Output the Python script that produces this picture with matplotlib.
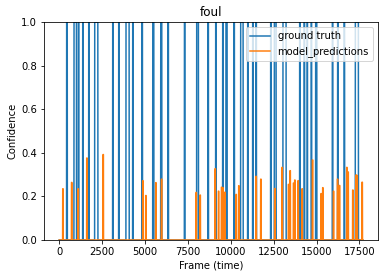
# Foul-Erkennung: Ground Truth vs. Modell-Vorhersage
import numpy as np
import matplotlib
matplotlib.use('Agg')
import matplotlib.pyplot as plt

n_frames = 17700

# Ground-Truth-Intervalle (Start-Frame, End-Frame), Wert = 1
gt_start = [430, 860, 1113, 1366, 1716, 2066, 3114, 3464, 3890, 4280, 4822, 5450, 5915,
            6337, 7296, 8010, 8668, 9117, 9525, 9717, 10183, 10574, 10982, 11273, 11465,
            12322, 12538, 13040, 14012, 14274, 14456, 14685, 14945, 15917, 16226, 16605, 17258]
gt_end = [470, 1005, 1143, 1396, 1746, 2252, 3144, 3494, 4076, 4310, 4852, 5515, 5980,
          6367, 7326, 8115, 8698, 9147, 9555, 9787, 10213, 10720, 11012, 11303, 11495,
          12352, 12643, 13225, 14042, 14304, 14472, 14715, 15015, 15947, 16256, 16635, 17439]

# Vorhersage-Spitzen (Frame, Konfidenz)
pred_frame = [216, 728, 1107, 1614, 2564, 4878, 5052, 5635, 5967, 7984, 8217, 9091, 9289,
              9464, 9540, 9656, 10315, 10472, 11480, 11754, 12570, 12995, 13368, 13462,
              13660, 13735, 13928, 14161, 14767, 15268, 15367, 15991, 16224, 16340, 16766,
              16841, 17115, 17308, 17366, 17660]
pred_conf = [0.235, 0.264, 0.235, 0.376, 0.392, 0.272, 0.204, 0.263, 0.279, 0.218, 0.206,
             0.327, 0.224, 0.242, 0.240, 0.219, 0.209, 0.249, 0.292, 0.279, 0.236, 0.333,
             0.255, 0.318, 0.261, 0.275, 0.272, 0.235, 0.367, 0.213, 0.240, 0.224, 0.279,
             0.250, 0.333, 0.312, 0.229, 0.298, 0.296, 0.265]

# Zeitreihen aufbauen
frames = np.arange(n_frames)
ground_truth = np.zeros(n_frames)
for s, e in zip(gt_start, gt_end):
    ground_truth[s:e + 1] = 1.0

predictions = np.zeros(n_frames)
for f, c in zip(pred_frame, pred_conf):
    predictions[max(0, f - 15):min(n_frames, f + 15)] = c

fig = plt.figure(figsize=(386 / 72, 278 / 72), dpi=72)
ax = fig.add_axes([44 / 386, 38 / 278, 334 / 386, 218 / 278])

ax.plot(frames, ground_truth, label='ground truth', color='#1f77b4', linewidth=1.5)
ax.plot(frames, predictions, label='model_predictions', color='#ff7f0e', linewidth=1.5)

ax.set_ylim(0, 1)
ax.set_title('foul', fontsize=12)
ax.set_xlabel('Frame (time)')
ax.set_ylabel('Confidence')
ax.legend(loc='upper right')

fig.savefig('out.png', dpi=72)
